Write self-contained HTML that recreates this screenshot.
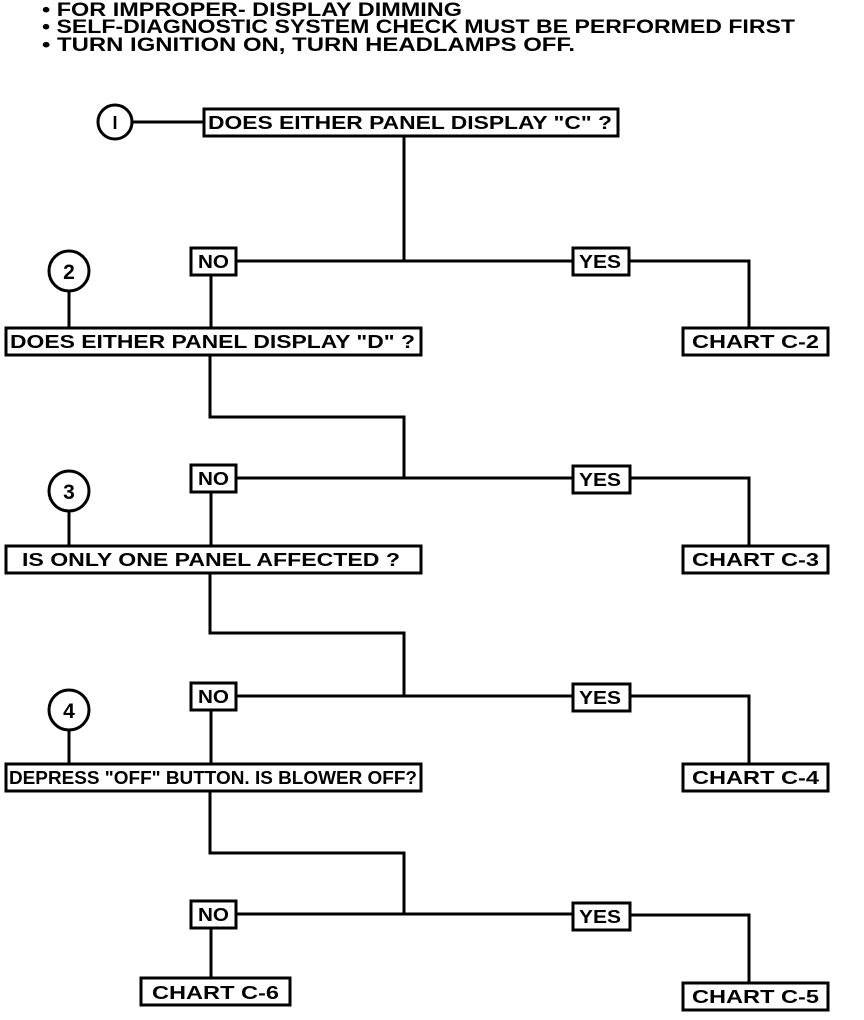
<!DOCTYPE html>
<html><head><meta charset="utf-8"><style>
html,body{margin:0;padding:0;background:#fff;}
svg{display:block;}
text{font-family:"Liberation Sans",sans-serif;font-weight:bold;fill:#000;}
</style></head><body>
<svg width="864" height="1020" viewBox="0 0 864 1020" xmlns="http://www.w3.org/2000/svg">
<g fill="none" stroke="#000" stroke-width="3">
<circle cx="115" cy="122" r="17"/>
<line x1="132" y1="122" x2="204" y2="122"/>
<rect x="204" y="109" width="414" height="27"/>
<polyline points="404,136 404,261"/>
<line x1="236" y1="261" x2="573" y2="261"/>
<rect x="191" y="248" width="45" height="27"/>
<rect x="573" y="248" width="56" height="27"/>
<polyline points="629,261 749,261 749,328"/>
<rect x="683" y="328" width="145" height="27"/>
<line x1="211" y1="275" x2="211" y2="328"/>
<circle cx="69" cy="271" r="20"/>
<line x1="69" y1="291" x2="69" y2="328"/>
<rect x="6" y="328" width="415" height="27"/>
<polyline points="210,355 210,417 404,417 404,478"/>
<line x1="236" y1="478" x2="573" y2="478"/>
<rect x="191" y="465" width="45" height="27"/>
<rect x="573" y="466" width="57" height="27"/>
<polyline points="630,478 749,478 749,546"/>
<rect x="683" y="546" width="145" height="27"/>
<line x1="211" y1="492" x2="211" y2="546"/>
<circle cx="69" cy="491" r="20"/>
<line x1="69" y1="511" x2="69" y2="546"/>
<rect x="6" y="546" width="415" height="27"/>
<polyline points="210,573 210,633 404,633 404,696"/>
<line x1="236" y1="696" x2="573" y2="696"/>
<rect x="191" y="683" width="45" height="27"/>
<rect x="573" y="684" width="57" height="27"/>
<polyline points="630,696 749,696 749,764"/>
<rect x="683" y="764" width="145" height="27"/>
<line x1="211" y1="710" x2="211" y2="764"/>
<circle cx="69" cy="710" r="20"/>
<line x1="69" y1="730" x2="69" y2="764"/>
<rect x="6" y="764" width="415" height="27"/>
<polyline points="210,791 210,853 404,853 404,914"/>
<line x1="236" y1="914" x2="573" y2="914"/>
<rect x="191" y="901" width="45" height="27"/>
<rect x="573" y="903" width="57" height="27"/>
<polyline points="630,915 749,915 749,983"/>
<rect x="683" y="983" width="145" height="27"/>
<line x1="211" y1="928" x2="211" y2="978"/>
<rect x="141" y="978" width="149" height="27"/>
</g>
<g font-size="19">
<text x="42" y="16" textLength="420" lengthAdjust="spacingAndGlyphs">• FOR IMPROPER- DISPLAY DIMMING</text>
<text x="42" y="33" textLength="753" lengthAdjust="spacingAndGlyphs">• SELF-DIAGNOSTIC SYSTEM CHECK MUST BE PERFORMED FIRST</text>
<text x="42" y="51" textLength="533" lengthAdjust="spacingAndGlyphs">• TURN IGNITION ON, TURN HEADLAMPS OFF.</text>
</g>
<g font-size="18">
<text x="115" y="129" text-anchor="middle" font-weight="normal">I</text>
<text x="69" y="279" text-anchor="middle" font-size="21">2</text>
<text x="69" y="499" text-anchor="middle" font-size="21">3</text>
<text x="69" y="718" text-anchor="middle" font-size="21">4</text>
<text x="208" y="129" textLength="404" lengthAdjust="spacingAndGlyphs">DOES EITHER PANEL DISPLAY "C" ?</text>
<text x="10" y="348" textLength="405" lengthAdjust="spacingAndGlyphs">DOES EITHER PANEL DISPLAY "D" ?</text>
<text x="22" y="566" textLength="378" lengthAdjust="spacingAndGlyphs">IS ONLY ONE PANEL AFFECTED ?</text>
<text x="9" y="784" textLength="408" lengthAdjust="spacingAndGlyphs">DEPRESS "OFF" BUTTON. IS BLOWER OFF?</text>
<text x="198" y="268" textLength="31" lengthAdjust="spacingAndGlyphs">NO</text>
<text x="198" y="485" textLength="31" lengthAdjust="spacingAndGlyphs">NO</text>
<text x="198" y="703" textLength="31" lengthAdjust="spacingAndGlyphs">NO</text>
<text x="198" y="921" textLength="31" lengthAdjust="spacingAndGlyphs">NO</text>
<text x="579" y="268" textLength="42" lengthAdjust="spacingAndGlyphs">YES</text>
<text x="579" y="486" textLength="42" lengthAdjust="spacingAndGlyphs">YES</text>
<text x="579" y="704" textLength="42" lengthAdjust="spacingAndGlyphs">YES</text>
<text x="579" y="923" textLength="42" lengthAdjust="spacingAndGlyphs">YES</text>
<text x="692" y="348" textLength="127" lengthAdjust="spacingAndGlyphs">CHART C-2</text>
<text x="692" y="566" textLength="127" lengthAdjust="spacingAndGlyphs">CHART C-3</text>
<text x="692" y="784" textLength="127" lengthAdjust="spacingAndGlyphs">CHART C-4</text>
<text x="692" y="1003" textLength="127" lengthAdjust="spacingAndGlyphs">CHART C-5</text>
<text x="152" y="999" textLength="127" lengthAdjust="spacingAndGlyphs">CHART C-6</text>
</g>
</svg>
</body></html>
